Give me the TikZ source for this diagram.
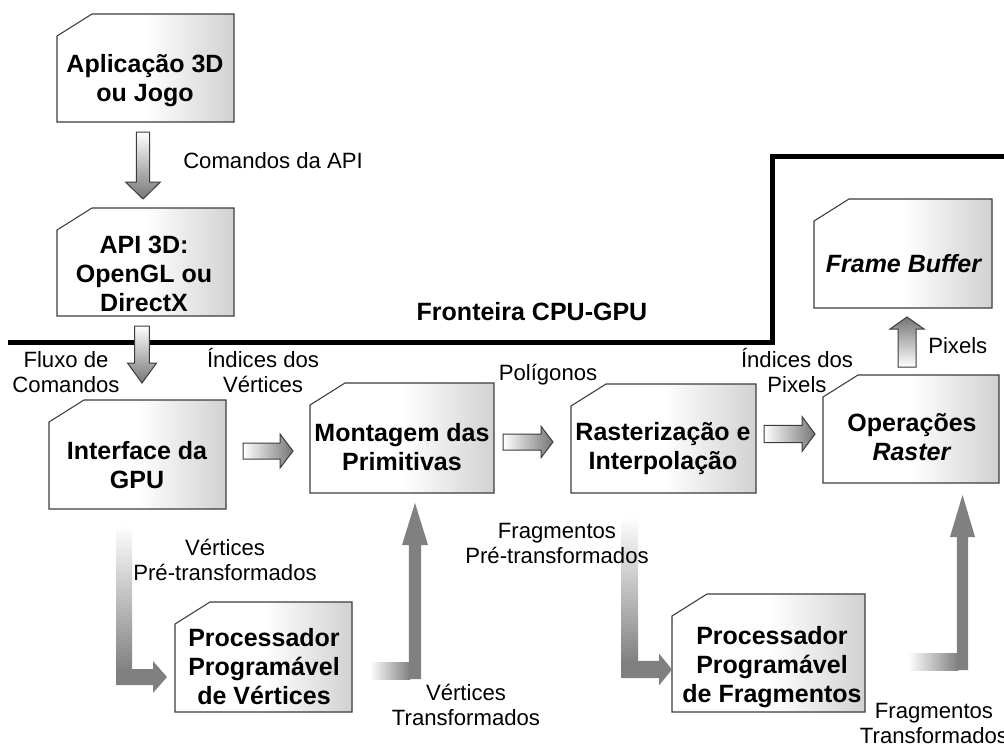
\documentclass[tikz,border=0pt]{standalone}
\usepackage{fontspec}
\setmainfont{Liberation Sans}
\usetikzlibrary{calc,fit}

\definecolor{cardline}{HTML}{3C3C3C}
\definecolor{arrowgray}{HTML}{767676}
\definecolor{flowgray}{HTML}{808080}

% card fill: white over the left half, fading to light grey at the right edge
\pgfdeclarehorizontalshading{cardshade}{100bp}{color(0bp)=(white); color(25bp)=(white); color(50bp)=(white); color(75bp)=(black!18); color(100bp)=(black!18)}

% block arrow: [path options]{start}{tip}{shaft half width}{head half width}{head length} (pt)
\newcommand\blkarrow[6][]{%
  \path[#1] let \p1=(#2), \p2=(#3),
    \n1={veclen(\x2-\x1,\y2-\y1)},
    \n2={(\x2-\x1)/\n1},
    \n3={(\y2-\y1)/\n1}
  in ({\x1-(\n3)*#4},{\y1+(\n2)*#4})
  -- ({\x2-(\n2)*#6-(\n3)*#4},{\y2-(\n3)*#6+(\n2)*#4})
  -- ({\x2-(\n2)*#6-(\n3)*#5},{\y2-(\n3)*#6+(\n2)*#5})
  -- (\p2)
  -- ({\x2-(\n2)*#6+(\n3)*#5},{\y2-(\n3)*#6-(\n2)*#5})
  -- ({\x2-(\n2)*#6+(\n3)*#4},{\y2-(\n3)*#6-(\n2)*#4})
  -- ({\x1+(\n3)*#4},{\y1-(\n2)*#4}) -- cycle;}

\begin{document}
\begin{tikzpicture}[x=0.75pt,y=-0.75pt,
  cardbox/.style={inner sep=0pt,outer sep=0pt,draw=none},
  cardfill/.style={shading=cardshade,draw=cardline,line width=0.8pt},
  boxtext/.style={font=\bfseries\fontsize{18.75}{21.75}\selectfont,align=center,anchor=base,inner sep=0pt},
  lbl/.style={font=\fontsize{16.6}{18.75}\selectfont,align=center,anchor=base,inner sep=0pt},
  down/.style={shade,top color=white,bottom color=arrowgray,draw=cardline,line width=0.75pt},
  rightward/.style={shade,left color=white,right color=arrowgray,draw=cardline,line width=0.75pt},
  upward/.style={shade,bottom color=white,top color=arrowgray,draw=cardline,line width=0.75pt},
  flow/.style={fill=flowgray,draw=none},
  border/.style={line width=3.75pt,line join=miter}]

\fill[white] (0,0) rectangle (1004,744);
\useasboundingbox (0,0) rectangle (1004,744);

% stage boxes
\node[cardbox,fit={(57,14)(234,122)}] (app) {};
\node[cardbox,fit={(57,208)(234,316)}] (api) {};
\node[cardbox,fit={(49,400)(226,509)}] (gpu) {};
\node[cardbox,fit={(310,383)(494,493)}] (mont) {};
\node[cardbox,fit={(571,384)(756,493)}] (rast) {};
\node[cardbox,fit={(823,375)(999,483)}] (ops) {};
\node[cardbox,fit={(814,199)(992,308)}] (fb) {};
\node[cardbox,fit={(175,602)(352,712)}] (vproc) {};
\node[cardbox,fit={(672,594)(865,712)}] (fproc) {};

\foreach \b in {app,api,gpu,mont,rast,ops,fb,vproc,fproc}
  \path[cardfill] ($(\b.north west)+(0,22)$) -- ($(\b.north west)+(35,0)$)
     -- (\b.north east) -- (\b.south east) -- (\b.south west) -- cycle;

% CPU / GPU boundary
\coordinate (bd-a) at (8,342);
\coordinate (bd-b) at (772,342);
\coordinate (bd-c) at (772,156);
\coordinate (bd-d) at (1010,156);
\draw[border] (bd-a) -- (bd-b) -- (bd-c) -- (bd-d);
\node[boxtext] (border-t) at (532,320) {Fronteira CPU-GPU};

% outlined block arrows
\coordinate (a1s) at (143,132); \coordinate (a1t) at (143,199);
\blkarrow[down]{a1s}{a1t}{4.9}{13.1}{12.75}
\coordinate (a2s) at (142,326); \coordinate (a2t) at (142,383);
\blkarrow[down]{a2s}{a2t}{5.6}{10.9}{15}
\coordinate (a3s) at (243,451); \coordinate (a3t) at (293,451);
\blkarrow[rightward]{a3s}{a3t}{6}{12.75}{9.75}
\coordinate (a4s) at (503,442); \coordinate (a4t) at (553,442);
\blkarrow[rightward]{a4s}{a4t}{6}{11.8}{9}
\coordinate (a5s) at (764,434); \coordinate (a5t) at (815,434);
\blkarrow[rightward]{a5s}{a5t}{6.4}{13.1}{9.75}
\coordinate (a6s) at (907,367); \coordinate (a6t) at (907,317);
\blkarrow[upward]{a6s}{a6t}{6.75}{12.75}{9}

% programmable-stage flows (borderless, faded tails)
\shade[top color=white,bottom color=flowgray] (116,525) rectangle (132,671);
\coordinate (l1c) at (116,677); \coordinate (l1t) at (167,677);
\blkarrow[flow]{l1c}{l1t}{6}{12}{10.5}

\shade[left color=white,right color=flowgray] (370,662) rectangle (410,679);
\coordinate (l2c) at (415,679); \coordinate (l2t) at (415,503);
\blkarrow[flow]{l2c}{l2t}{4.6}{9.75}{31.5}

\shade[top color=white,bottom color=flowgray] (621,517) rectangle (638,663);
\coordinate (l3c) at (621,669.5); \coordinate (l3t) at (672,669.5);
\blkarrow[flow]{l3c}{l3t}{6.4}{12}{9.75}

\shade[left color=white,right color=flowgray] (908,653) rectangle (958,670);
\coordinate (l4c) at (962.5,670); \coordinate (l4t) at (962.5,495);
\blkarrow[flow]{l4c}{l4t}{4.2}{9.4}{31.5}

% box texts (anchored at the baseline of the last line)
\node[boxtext] (app-t) at (145,101) {Aplicação 3D\\ou Jogo};
\node[boxtext] (api-t) at (144,311) {API 3D:\\OpenGL ou\\DirectX};
\node[boxtext] (gpu-t) at (137,488) {Interface da\\GPU};
\node[boxtext] (mont-t) at (402,470) {Montagem das\\Primitivas};
\node[boxtext] (rast-t) at (663,469) {Rasterização e\\Interpolação};
\node[boxtext] (ops-t) at (912,460) {Operações\\\textit{Raster}};
\node[boxtext] (fb-t) at (904,272) {\textit{Frame Buffer}};
\node[boxtext] (vproc-t) at (264,704) {Processador\\Programável\\de Vértices};
\node[boxtext] (fproc-t) at (772,702) {Processador\\Programável\\de Fragmentos};

% flow labels
\node[lbl,anchor=base west] (l-cmd) at (183,168) {Comandos da API};
\node[lbl] (l-flux) at (66,392) {Fluxo de\\Comandos};
\node[lbl] (l-idxv) at (263,392) {Índices dos\\Vértices};
\node[lbl] (l-poly) at (548,380) {Polígonos};
\node[lbl] (l-idxp) at (797,392) {Índices dos\\Pixels};
\node[lbl,anchor=base west] (l-pix) at (928,353) {Pixels};
\node[lbl] (l-vpre) at (225,580) {Vértices\\Pré-transformados};
\node[lbl] (l-vtr) at (466,725) {Vértices\\Transformados};
\node[lbl] (l-fpre) at (557,563) {Fragmentos\\Pré-transformados};
\node[lbl] (l-ftr) at (934,743) {Fragmentos\\Transformados};

\end{tikzpicture}
\end{document}
